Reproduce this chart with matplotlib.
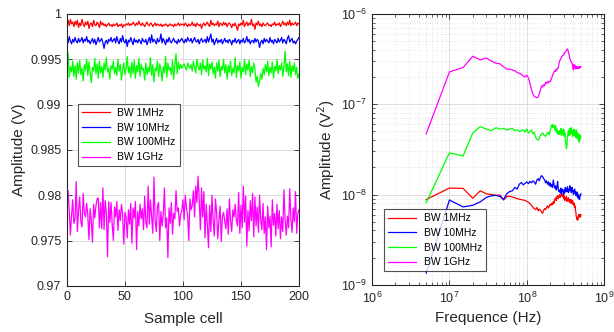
import numpy as np
import matplotlib
matplotlib.use("Agg")
import matplotlib.pyplot as plt
from matplotlib.ticker import FixedLocator, LogLocator, NullFormatter

plt.rcParams["font.family"] = ["Liberation Sans", "DejaVu Sans"]

labels = ["BW 1MHz", "BW 10MHz", "BW 100MHz", "BW 1GHz"]
colors = ["#ff0000", "#0000ff", "#00ff00", "#ff00ff"]

# left panel: amplitude per sample cell, in mV
red_mv = [
    999.0, 999.3, 998.7, 999.4, 998.9, 999.1, 998.6, 999.2, 998.8, 999.3,
    998.5, 999.0, 998.7, 999.4, 998.9, 998.6, 999.1, 998.8, 999.2, 998.4,
    998.9, 999.0, 998.6, 999.3, 998.8, 998.7, 999.1, 998.9, 998.5, 999.2,
    998.8, 999.0, 998.7, 998.9, 998.6, 998.8, 999.0, 998.7, 998.8, 998.6,
    998.9, 998.7, 998.8, 999.0, 998.6, 998.8, 998.7, 998.9, 998.5, 998.8,
    998.7, 998.9, 998.8, 999.0, 998.7, 998.9, 998.8, 999.1, 998.9, 998.7,
    999.0, 998.8, 999.2, 998.9, 998.7, 999.0, 998.8, 998.6, 998.9, 999.1,
    998.8, 998.7, 999.0, 998.9, 998.6, 998.8, 999.0, 998.7, 998.9, 998.8,
    998.7, 998.9, 998.6, 998.8, 998.7, 998.9, 998.8, 998.6, 998.8, 998.9,
    998.7, 998.8, 998.6, 998.9, 998.7, 998.8, 999.0, 998.7, 998.9, 998.8,
    998.9, 998.7, 999.0, 998.8, 998.6, 998.9, 998.7, 998.8, 999.1, 998.7,
    998.9, 998.6, 999.0, 998.8, 998.7, 998.9, 998.4, 998.8, 999.0, 998.7,
    998.9, 999.1, 998.8, 998.6, 999.3, 998.8, 999.0, 998.7, 998.9, 998.8,
    999.2, 998.6, 999.0, 998.9, 998.7, 999.1, 998.8, 999.0, 998.6, 998.9,
    999.0, 998.8, 998.5, 998.9, 998.7, 999.0, 998.6, 998.2, 998.9, 998.7,
    999.0, 998.8, 999.3, 998.6, 998.9, 999.1, 998.7, 999.0, 998.8, 999.4,
    998.7, 998.9, 998.3, 999.0, 998.8, 999.2, 998.7, 998.9, 998.6, 999.0,
    998.8, 998.7, 998.9, 999.0, 998.7, 998.8, 998.6, 998.9, 998.8, 999.1,
    998.7, 998.9, 998.8, 999.0, 998.6, 998.9, 999.2, 998.8, 999.0, 998.7,
    999.1, 998.8, 999.3, 998.7, 999.0, 998.8, 998.9, 999.1, 998.7, 999.0,
    998.9,
]
blue_mv = [
    997.3, 996.8, 997.5, 997.0, 996.7, 997.2, 996.9, 997.4, 997.0, 996.8,
    997.3, 996.9, 997.1, 997.4, 996.8, 997.2, 997.0, 997.5, 996.9, 997.1,
    996.7, 997.0, 997.3, 996.8, 997.2, 996.6, 997.0, 997.4, 996.9, 997.1,
    997.3, 996.8, 996.2, 996.9, 997.1, 996.7, 997.2, 997.0, 997.4, 996.9,
    997.1, 997.3, 996.8, 997.5, 997.0, 996.7, 997.3, 996.9, 997.6, 997.0,
    996.8, 997.2, 996.4, 997.1, 996.9, 997.4, 997.0, 996.6, 997.3, 996.9,
    997.1, 996.8, 997.2, 997.0, 996.7, 997.3, 997.0, 996.9, 997.2, 996.6,
    997.0, 997.4, 996.8, 997.7, 996.9, 997.2, 997.0, 996.7, 997.3, 996.9,
    997.1, 997.8, 996.8, 997.3, 997.0, 996.6, 997.2, 996.9, 997.4, 997.0,
    996.8, 997.1, 997.3, 996.9, 997.0, 996.7, 997.2, 996.9, 997.1, 997.3,
    997.0, 996.8, 997.2, 996.9, 997.4, 997.1, 997.0, 997.3, 996.8, 997.1,
    997.4, 997.0, 996.9, 997.2, 996.7, 997.1, 997.3, 996.9, 997.0, 997.2,
    996.8, 997.5, 996.9, 997.3, 997.8, 996.9, 997.2, 996.6, 997.0, 997.3,
    996.8, 997.1, 996.9, 997.2, 996.7, 997.0, 997.3, 996.9, 997.1, 996.8,
    997.2, 997.0, 996.6, 997.1, 996.9, 997.3, 996.8, 997.0, 997.2, 996.7,
    997.1, 996.9, 997.3, 996.8, 997.0, 997.5, 996.9, 997.2, 996.7, 997.0,
    997.1, 996.8, 997.3, 996.9, 997.2, 997.0, 996.3, 996.9, 997.1, 996.7,
    997.3, 996.9, 997.2, 997.0, 996.8, 997.4, 996.9, 997.1, 996.7, 997.2,
    997.0, 996.8, 997.3, 996.9, 997.1, 997.4, 996.8, 997.2, 997.0, 996.7,
    997.3, 997.6, 996.9, 997.1, 997.3, 996.8, 997.0, 996.7, 997.0, 997.2,
    997.4,
]
green_mv = [
    994.5, 995.7, 993.0, 994.2, 993.6, 994.8, 993.1, 994.3, 992.8, 994.6,
    993.5, 994.9, 993.3, 994.0, 992.6, 994.4, 993.8, 995.0, 993.2, 994.7,
    993.6, 992.4, 994.1, 993.7, 995.1, 993.4, 994.5, 992.9, 994.8, 993.5,
    994.2, 993.0, 994.6, 993.8, 995.2, 993.6, 994.0, 992.8, 994.3, 993.9,
    994.8, 993.4, 994.1, 993.2, 995.0, 993.7, 994.4, 992.7, 993.9, 994.6,
    993.3, 994.0, 995.3, 993.5, 994.2, 993.0, 994.7, 993.4, 994.9, 992.9,
    994.3, 993.6, 995.1, 993.1, 994.5, 993.8, 994.0, 992.7, 994.6, 993.3,
    994.1, 993.6, 995.2, 993.2, 994.4, 992.5, 994.0, 993.7, 994.8, 993.1,
    994.5, 993.9, 992.6, 994.2, 993.5, 995.3, 993.0, 994.6, 993.8, 994.1,
    993.3, 994.9, 992.8, 994.3, 995.6, 993.4, 994.7, 993.9, 994.4, 994.0,
    994.3, 994.5, 994.1, 993.8, 994.6, 994.2, 994.0, 994.4, 993.7, 994.8,
    994.1, 993.5, 995.0, 994.2, 993.8, 994.6, 993.3, 994.9, 993.9, 994.3,
    993.6, 995.1, 993.2, 994.5, 993.9, 994.7, 993.4, 994.1, 992.9, 994.6,
    993.7, 994.9, 993.1, 994.2, 993.8, 995.0, 993.5, 994.4, 992.8, 994.3,
    993.6, 994.8, 993.2, 994.0, 993.5, 995.2, 993.0, 994.3, 993.7, 994.7,
    992.9, 994.1, 993.6, 995.0, 993.3, 994.5, 993.8, 994.9, 993.1, 994.2,
    993.5, 994.6, 993.9, 992.5, 993.1, 992.0, 992.6, 993.4, 992.8, 994.0,
    993.3, 994.4, 993.6, 994.8, 993.2, 994.1, 993.5, 994.7, 992.9, 994.2,
    993.7, 995.0, 993.4, 994.3, 993.8, 994.6, 993.1, 994.2, 995.9, 993.6,
    994.5, 993.2, 994.8, 993.0, 994.3, 993.7, 994.6, 993.3, 994.1, 992.9,
    993.4,
]
pink_mv = [
    979.0, 980.5, 978.2, 975.6, 977.8, 979.5, 976.9, 977.4, 981.5, 976.0,
    978.3, 979.8, 977.1, 976.5, 980.2, 978.0, 977.6, 979.1, 977.8, 975.1,
    978.5, 977.2, 974.8, 979.0, 977.5, 978.8, 979.6, 979.7, 976.4, 979.2,
    976.3, 980.8, 976.2, 979.4, 978.0, 973.2, 979.3, 977.0, 979.2, 976.8,
    975.0, 978.7, 977.6, 979.3, 976.1, 978.4, 977.2, 979.0, 977.9, 974.6,
    978.1, 977.6, 975.3, 978.4, 976.8, 979.1, 974.7, 978.6, 977.5, 979.3,
    974.0, 978.2, 976.6, 979.0, 977.4, 978.5, 976.2, 979.9, 977.0, 976.4,
    981.0, 976.8, 979.5, 977.7, 975.8, 982.0, 977.2, 976.0, 978.8, 979.2,
    975.0, 978.2, 976.6, 977.9, 980.8, 976.4, 977.5, 973.1, 978.6, 976.9,
    979.2, 975.7, 978.0, 977.4, 980.5, 978.2, 978.6, 976.6, 977.9, 978.3,
    979.5, 977.3, 980.0, 978.6, 977.8, 975.0, 979.6, 978.4, 978.9, 980.5,
    977.6, 981.0, 979.2, 982.1, 979.6, 976.2, 980.8, 977.6, 980.4, 975.3,
    979.0, 976.8, 974.2, 978.9, 976.0, 980.0, 977.2, 975.5, 979.6, 978.1,
    975.2, 977.3, 978.8, 974.9, 977.6, 978.1, 977.1, 976.3, 978.5, 975.7,
    979.6, 977.2, 976.0, 978.4, 977.6, 979.0, 977.2, 976.6, 980.3, 975.8,
    978.9, 976.4, 981.0, 977.0, 979.9, 974.4, 978.3, 976.1, 979.4, 977.2,
    980.2, 975.4, 979.8, 976.6, 978.7, 975.9, 980.0, 977.3, 976.2, 979.1,
    975.8, 977.6, 974.0, 978.8, 976.4, 977.7, 974.3, 979.5, 976.7, 978.0,
    975.5, 979.0, 976.3, 978.3, 975.2, 977.6, 976.0, 980.6, 977.3, 975.6,
    977.7, 976.4, 980.7, 977.4, 975.9, 978.6, 977.1, 980.4, 975.8, 978.0,
    978.4,
]

# right panel: spectrum, 5 MHz steps up to 500 MHz
freq_step_hz = 5e6
red_psd = [  # x 1e-8 V^2
    0.88, 1.18, 1.17, 0.91, 1.10, 1.02, 1.00, 0.98, 0.99, 0.87,
    0.95, 0.96, 0.94, 0.92, 0.90, 0.89, 0.88, 0.87, 0.86, 0.84,
    0.82, 0.79, 0.76, 0.72, 0.70, 0.68, 0.72, 0.66, 0.69, 0.67,
    0.64, 0.62, 0.67, 0.70, 0.68, 0.72, 0.75, 0.71, 0.74, 0.78,
    0.76, 0.80, 0.77, 0.84, 0.80, 0.88, 0.92, 0.86, 0.95, 0.97,
    0.90, 0.95, 1.00, 0.93, 0.98, 1.03, 0.96, 1.01, 0.94, 0.90,
    0.97, 0.86, 0.92, 0.88, 0.95, 0.84, 0.90, 0.86, 0.92, 0.87,
    0.82, 0.88, 0.83, 0.89, 0.80, 0.85, 0.81, 0.86, 0.78, 0.82,
    0.76, 0.80, 0.72, 0.75, 0.68, 0.64, 0.58, 0.55, 0.53, 0.56,
    0.52, 0.55, 0.58, 0.60, 0.57, 0.60, 0.56, 0.59, 0.57, 0.60,
]
blue_psd = [  # x 1e-8 V^2
    0.135, 0.87, 0.73, 0.76, 0.83, 0.93, 0.97, 0.98, 0.95, 0.88,
    1.02, 1.08, 1.10, 1.20, 1.15, 1.30, 1.36, 1.28, 1.33, 1.38,
    1.32, 1.40, 1.35, 1.42, 1.38, 1.30, 1.45, 1.50, 1.42, 1.55,
    1.62, 1.58, 1.50, 1.45, 1.35, 1.42, 1.30, 1.38, 1.25, 1.35,
    1.22, 1.30, 1.20, 1.45, 1.28, 1.18, 1.25, 1.12, 1.20, 1.40,
    1.15, 1.08, 1.12, 1.05, 1.18, 1.02, 1.10, 1.15, 1.08, 1.00,
    1.12, 1.05, 1.20, 1.10, 1.15, 1.08, 1.22, 1.12, 1.05, 1.15,
    1.10, 1.25, 1.12, 1.18, 1.05, 1.10, 1.20, 1.08, 1.12, 1.00,
    1.10, 1.05, 1.15, 1.03, 1.08, 0.98, 1.05, 1.00, 1.07, 0.95,
    1.02, 0.92, 0.97, 0.90, 0.95, 0.88, 0.93, 1.00, 0.98, 1.02,
]
green_psd = [  # x 1e-8 V^2
    0.81, 2.90, 2.67, 4.80, 5.65, 5.30, 5.10, 5.50, 5.30, 5.40,
    5.20, 5.30, 5.40, 5.10, 5.20, 5.00, 5.10, 5.20, 4.90, 5.30,
    4.80, 5.00, 5.20, 4.70, 4.90, 4.30, 4.10, 4.00, 4.20, 4.50,
    4.70, 4.80, 4.60, 4.50, 4.40, 4.70, 4.80, 4.90, 4.60, 5.00,
    5.60, 5.90, 5.50, 6.00, 5.70, 5.20, 5.80, 4.90, 5.30, 4.70,
    5.00, 4.60, 5.10, 4.80, 5.40, 4.50, 5.20, 4.90, 4.60, 5.30,
    4.40, 4.80, 4.10, 3.70, 3.20, 3.50, 4.30, 4.70, 5.10, 4.50,
    4.90, 5.40, 4.60, 5.00, 5.50, 4.80, 5.20, 4.40, 5.00, 4.70,
    5.30, 4.50, 4.90, 5.10, 4.30, 4.80, 5.20, 4.60, 4.20, 4.90,
    4.40, 4.70, 4.00, 4.50, 3.80, 4.20, 4.60, 4.10, 4.40, 4.30,
]
pink_psd = [  # x 1e-7 V^2
    0.47, 2.28, 2.55, 3.40, 3.10, 3.25, 3.00, 2.85, 2.80, 2.60,
    2.45, 2.45, 2.40, 2.35, 2.25, 2.20, 2.15, 2.05, 2.00, 2.10,
    1.95, 1.70, 1.45, 1.30, 1.22, 1.20, 1.18, 1.20, 1.30, 1.45,
    1.60, 1.55, 1.65, 1.60, 1.75, 1.70, 1.78, 1.72, 1.80, 1.78,
    1.85, 1.95, 2.10, 2.15, 2.30, 2.35, 2.30, 2.45, 2.40, 2.50,
    2.55, 2.80, 3.00, 3.10, 3.20, 3.30, 3.40, 3.45, 3.50, 3.55,
    3.70, 3.75, 3.80, 3.90, 3.95, 4.00, 4.10, 4.00, 3.80, 3.60,
    3.40, 3.20, 3.10, 3.00, 2.95, 2.90, 2.85, 2.70, 2.55, 2.40,
    2.75, 2.60, 2.70, 2.50, 2.65, 2.45, 2.60, 2.55, 2.50, 2.60,
    2.55, 2.50, 2.55, 2.60, 2.50, 2.58, 2.55, 2.60, 2.58, 2.60,
]

axis_col = "#262626"
grid_col = "#dcdcdc"

fig = plt.figure(figsize=(6.14, 3.32), dpi=100)
ax1 = fig.add_axes([0.109, 0.139, 0.378, 0.819])
ax2 = fig.add_axes([0.606, 0.142, 0.378, 0.816])

legend_kw = dict(loc="upper left", fontsize=7.5, frameon=True, fancybox=False,
                 handlelength=2.7, handletextpad=0.7, borderpad=0.4,
                 labelspacing=0.45, edgecolor=axis_col, borderaxespad=0)

# left: time samples
left_series = [red_mv, blue_mv, green_mv, pink_mv]
for vals, c, lab in zip(left_series, colors, labels):
    x = np.arange(len(vals))
    ax1.plot(x, np.array(vals) / 1000.0, color=c, lw=0.9, label=lab)

ax1.set_xlim(0, 200)
ax1.set_ylim(0.97, 1.0)
ax1.yaxis.set_major_locator(FixedLocator([0.97, 0.975, 0.98, 0.985, 0.99, 0.995, 1.0]))
ax1.set_yticklabels(["0.97", "0.975", "0.98", "0.985", "0.99", "0.995", "1"])
ax1.xaxis.set_major_locator(FixedLocator([0, 50, 100, 150, 200]))
ax1.grid(True, color=grid_col, lw=0.7)
ax1.set_xlabel("Sample cell", fontsize=11, color=axis_col, labelpad=6)
ax1.set_ylabel("Amplitude (V)", fontsize=11, color=axis_col, labelpad=3)
leg1 = ax1.legend(bbox_to_anchor=(0.047, 0.669), **legend_kw)
leg1.get_frame().set_linewidth(0.8)

# right: spectra
right_series = [(red_psd, 1e-8), (blue_psd, 1e-8), (green_psd, 1e-8), (pink_psd, 1e-7)]
for (vals, scale), c, lab in zip(right_series, colors, labels):
    f = freq_step_hz * np.arange(1, len(vals) + 1)
    ax2.plot(f, np.array(vals) * scale, color=c, lw=0.9, label=lab)

ax2.set_xscale("log")
ax2.set_yscale("log")
ax2.set_xlim(1e6, 1e9)
ax2.set_ylim(1e-9, 1e-6)
for axis in (ax2.xaxis, ax2.yaxis):
    axis.set_major_locator(LogLocator(base=10, numticks=10))
    axis.set_minor_locator(LogLocator(base=10, subs=np.arange(2, 10), numticks=20))
    axis.set_minor_formatter(NullFormatter())
ax2.grid(True, which="major", color=grid_col, lw=0.7)
ax2.grid(True, which="minor", color=grid_col, lw=0.6, ls=(0, (1, 2)))
ax2.set_xlabel("Frequence (Hz)", fontsize=11, color=axis_col, labelpad=4)
ax2.set_ylabel("Amplitude (V$^2$)", fontsize=11, color=axis_col, labelpad=3)
leg2 = ax2.legend(bbox_to_anchor=(0.052, 0.28), **legend_kw)
leg2.get_frame().set_linewidth(0.8)

for ax in (ax1, ax2):
    ax.set_axisbelow(True)
    ax.tick_params(which="both", direction="in", top=True, right=True,
                   colors=axis_col, labelsize=9, pad=4)
    ax.tick_params(which="major", length=3.5, width=0.6)
    ax.tick_params(which="minor", length=2, width=0.5)
    for s in ax.spines.values():
        s.set_color(axis_col)
        s.set_linewidth(0.8)

fig.savefig("out.png", dpi=100)
